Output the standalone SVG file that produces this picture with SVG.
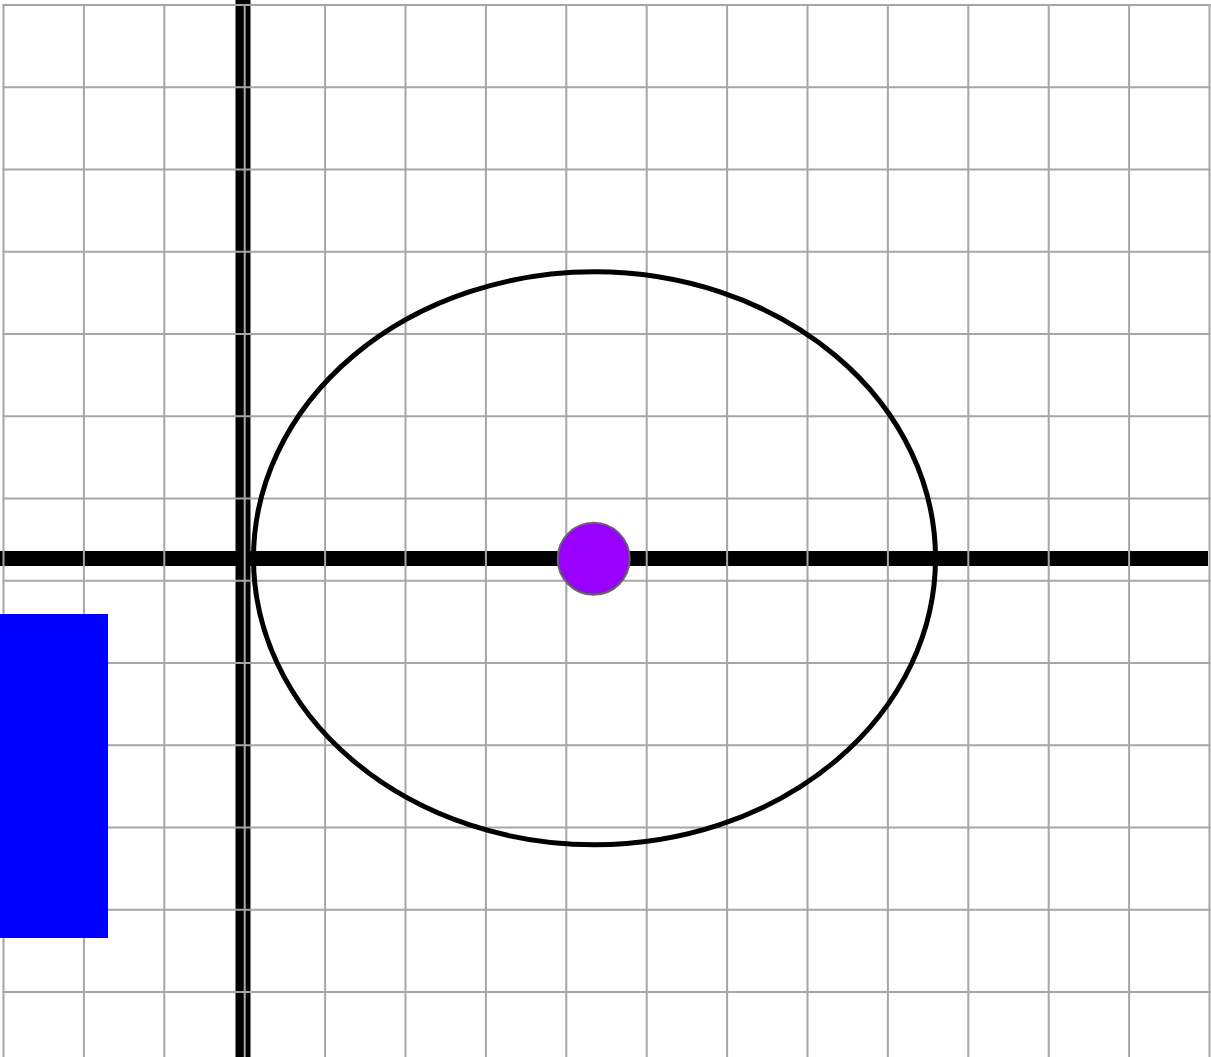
<svg xmlns="http://www.w3.org/2000/svg" width="1211" height="1057" viewBox="0 0 1211 1057">
<style>
.grid line{stroke:#a6a6a6;stroke-width:2}
.axis{stroke:#000;stroke-width:15}
</style>
<rect width="1211" height="1057" fill="#fff"/>
<g id="axes">
<line class="axis" x1="243" y1="0" x2="243" y2="1057"/>
<line class="axis" x1="0" y1="558.5" x2="1208" y2="558.5"/>
</g>
<g id="grid" class="grid">
<line x1="2.5" y1="5" x2="1210.5" y2="5"/>
<line x1="2.5" y1="87.2" x2="1210.5" y2="87.2"/>
<line x1="2.5" y1="169.5" x2="1210.5" y2="169.5"/>
<line x1="2.5" y1="251.7" x2="1210.5" y2="251.7"/>
<line x1="2.5" y1="334" x2="1210.5" y2="334"/>
<line x1="2.5" y1="416.2" x2="1210.5" y2="416.2"/>
<line x1="2.5" y1="498.5" x2="1210.5" y2="498.5"/>
<line x1="2.5" y1="580.7" x2="1210.5" y2="580.7"/>
<line x1="2.5" y1="663" x2="1210.5" y2="663"/>
<line x1="2.5" y1="745.2" x2="1210.5" y2="745.2"/>
<line x1="2.5" y1="827.5" x2="1210.5" y2="827.5"/>
<line x1="2.5" y1="909.7" x2="1210.5" y2="909.7"/>
<line x1="2.5" y1="992" x2="1210.5" y2="992"/>
<line x1="3.5" y1="4" x2="3.5" y2="1057"/>
<line x1="83.9" y1="4" x2="83.9" y2="1057"/>
<line x1="164.3" y1="4" x2="164.3" y2="1057"/>
<line x1="244.7" y1="4" x2="244.7" y2="1057"/>
<line x1="325.1" y1="4" x2="325.1" y2="1057"/>
<line x1="405.5" y1="4" x2="405.5" y2="1057"/>
<line x1="485.9" y1="4" x2="485.9" y2="1057"/>
<line x1="566.3" y1="4" x2="566.3" y2="1057"/>
<line x1="646.7" y1="4" x2="646.7" y2="1057"/>
<line x1="727.1" y1="4" x2="727.1" y2="1057"/>
<line x1="807.5" y1="4" x2="807.5" y2="1057"/>
<line x1="887.9" y1="4" x2="887.9" y2="1057"/>
<line x1="968.3" y1="4" x2="968.3" y2="1057"/>
<line x1="1048.7" y1="4" x2="1048.7" y2="1057"/>
<line x1="1129.1" y1="4" x2="1129.1" y2="1057"/>
<line x1="1209.5" y1="4" x2="1209.5" y2="1057"/>
</g>
<g id="ellipse">
<ellipse cx="594.5" cy="558.3" rx="341" ry="286.5" fill="none" stroke="#000" stroke-width="5"/>
</g>
<g id="point">
<circle cx="593.7" cy="558.8" r="36" fill="#9900ff" stroke="#666" stroke-width="2"/>
</g>
<g id="block">
<rect x="0" y="614" width="108" height="324" fill="#0000ff"/>
</g>
</svg>
